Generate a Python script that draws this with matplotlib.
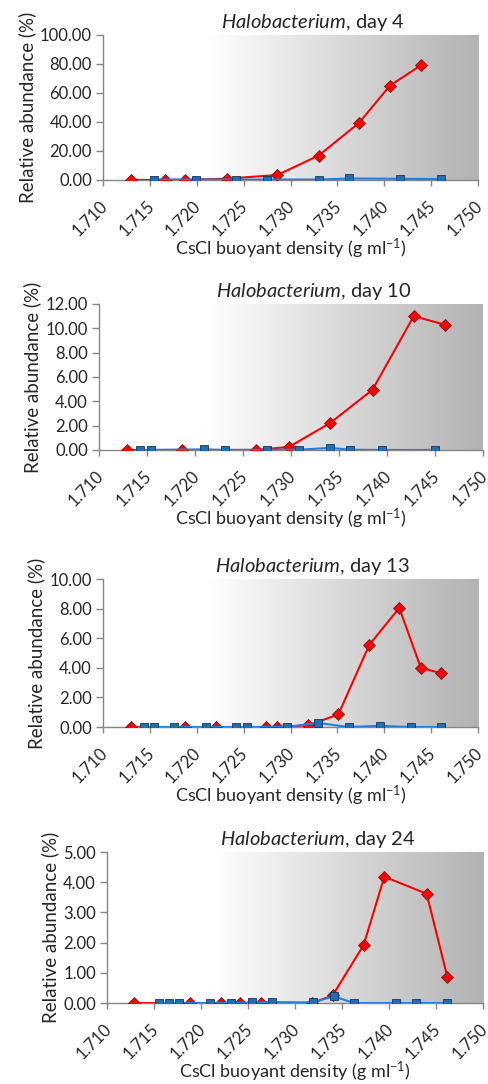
import numpy as np
import matplotlib
matplotlib.use('Agg')
import matplotlib.pyplot as plt
import matplotlib.transforms as mtransforms
from matplotlib.colors import LinearSegmentedColormap

plt.rcParams['font.family'] = ['Lato', 'DejaVu Sans']
plt.rcParams['mathtext.fontset'] = 'custom'
plt.rcParams['mathtext.it'] = 'Lato:italic'
plt.rcParams['mathtext.rm'] = 'Lato'

# day 4
red_x4 = [1.7130, 1.7166, 1.7188, 1.7232, 1.7286, 1.7330, 1.7373, 1.7406, 1.7439]
red_y4 = [0.0, 0.0, 0.0, 0.9, 3.4, 16.8, 39.3, 65.0, 79.0]
blue_x4 = [1.7154, 1.7199, 1.7242, 1.7275, 1.7330, 1.7362, 1.7417, 1.7460]
blue_y4 = [0.3, 0.3, 0.3, 0.3, 0.3, 1.0, 0.8, 0.6]

# day 10
red_x10 = [1.7129, 1.7186, 1.7264, 1.7298, 1.7341, 1.7385, 1.7428, 1.7461]
red_y10 = [0.0, 0.0, 0.0, 0.25, 2.22, 4.95, 11.0, 10.28]
blue_x10 = [1.7143, 1.7154, 1.7209, 1.7231, 1.7275, 1.7308, 1.7341, 1.7362, 1.7395, 1.7450]
blue_y10 = [0.0, 0.0, 0.05, 0.0, 0.02, 0.02, 0.17, 0.02, 0.0, 0.0]

# day 13
red_x13 = [1.7130, 1.7188, 1.7221, 1.7274, 1.7286, 1.7319, 1.7351, 1.7384, 1.7416, 1.7439, 1.7460]
red_y13 = [0.0, 0.0, 0.0, 0.0, 0.0, 0.12, 0.85, 5.55, 8.05, 4.0, 3.65]
blue_x13 = [1.7144, 1.7154, 1.7176, 1.7210, 1.7242, 1.7254, 1.7296, 1.7329, 1.7362, 1.7395, 1.7428, 1.7460]
blue_y13 = [0.0, 0.0, 0.0, 0.0, 0.0, 0.0, 0.0, 0.28, 0.0, 0.08, 0.0, 0.0]

# day 24
red_x24 = [1.7129, 1.7188, 1.7221, 1.7242, 1.7264, 1.7318, 1.7340, 1.7373, 1.7395, 1.7440, 1.7462]
red_y24 = [0.0, 0.0, 0.0, 0.0, 0.0, 0.0, 0.25, 1.92, 4.18, 3.62, 0.87]
blue_x24 = [1.7155, 1.7166, 1.7177, 1.7210, 1.7232, 1.7254, 1.7276, 1.7319, 1.7341, 1.7363, 1.7407, 1.7429, 1.7462]
blue_y24 = [0.0, 0.0, 0.0, 0.0, 0.0, 0.02, 0.03, 0.02, 0.22, 0.0, 0.0, 0.0, 0.0]

days = ['4', '10', '13', '24']
ymaxes = [100, 12, 10, 5]
ysteps = [20, 2, 2, 1]
xticks = [1.710, 1.715, 1.720, 1.725, 1.730, 1.735, 1.740, 1.745, 1.750]

panels = [(red_x4, red_y4, blue_x4, blue_y4),
          (red_x10, red_y10, blue_x10, blue_y10),
          (red_x13, red_y13, blue_x13, blue_y13),
          (red_x24, red_y24, blue_x24, blue_y24)]

# axes boxes [left, bottom, width, height] in figure fraction
boxes = [[0.2106, 0.834, 0.767, 0.1338],
         [0.2025, 0.5849, 0.785, 0.1347],
         [0.2106, 0.3293, 0.767, 0.1365],
         [0.2188, 0.0747, 0.769, 0.1393]]

grad_cmap = LinearSegmentedColormap.from_list(
    'bg', [(0.0, '#ffffff'), (0.28, '#ffffff'), (1.0, '#b2b2b2')])

fig = plt.figure(figsize=(4.89, 10.84), dpi=100)
axcol = '#868686'
txtcol = '#262626'
shift = mtransforms.ScaledTranslation(-4 / 100, 0, fig.dpi_scale_trans)

for i, (rx, ry, bx, by) in enumerate(panels):
    ax = fig.add_axes(boxes[i])
    grad = np.linspace(0, 1, 256).reshape(1, -1)
    ax.imshow(grad, extent=[0, 1, 0, 1], transform=ax.transAxes,
              aspect='auto', cmap=grad_cmap, zorder=0)
    ax.plot(rx, ry, color='#ff0000', lw=1.5, marker='D', ms=6,
            mfc='#ff0000', mec='#7a1a1a', mew=0.6, zorder=3)
    ax.plot(bx, by, color='#1f7fe0', lw=1.5, marker='s', ms=5.5,
            mfc='#1f6fb5', mec='#10385e', mew=0.6, zorder=4)
    ax.set_xlim(1.710, 1.750)
    ax.set_ylim(0, ymaxes[i])
    ax.set_xticks(xticks)
    ax.set_xticklabels(['%.3f' % t for t in xticks], rotation=45,
                       ha='right', rotation_mode='anchor')
    ax.set_yticks(np.arange(0, ymaxes[i] + ysteps[i] / 2, ysteps[i]))
    ax.set_yticklabels(['%.2f' % v for v in ax.get_yticks()])
    ax.tick_params(axis='both', labelsize=12, colors=txtcol,
                   width=1, direction='out', color=axcol)
    ax.tick_params(axis='x', length=4, pad=9)
    ax.tick_params(axis='y', length=5, pad=3)
    # nudge the rotated x labels a little to the left
    for lab in ax.get_xticklabels():
        lab.set_transform(lab.get_transform() + shift)
    ax.spines['top'].set_visible(False)
    ax.spines['right'].set_visible(False)
    for s in ['left', 'bottom']:
        ax.spines[s].set_color(axcol)
        ax.spines[s].set_linewidth(1)
    ax.set_ylabel('Relative abundance (%)', fontsize=13.5, color=txtcol,
                  labelpad=3)
    ax.set_xlabel('CsCl buoyant density (g ml$^{-1}$)', fontsize=13,
                  color=txtcol, labelpad=-2)
    ax.set_title(r'$\it{Halobacterium}$, day ' + days[i], fontsize=14.5,
                 color=txtcol, pad=5, x=0.56)

fig.savefig('out.png', dpi=100)
